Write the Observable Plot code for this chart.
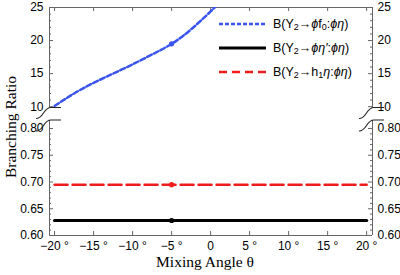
<!DOCTYPE html>
<html><head><meta charset="utf-8">
<script src="https://cdn.jsdelivr.net/npm/d3@7"></script>
<script src="https://cdn.jsdelivr.net/npm/@observablehq/plot@0.6"></script>
<style>
body{margin:0;background:#fff}
#chart{position:relative;width:400px;height:275px;font-family:"Liberation Sans",Arial,sans-serif;color:#000}
#chart svg.main{position:absolute;left:0;top:0;overflow:visible}
.lab{position:absolute;font-family:"Liberation Serif","Times New Roman",serif;font-size:15.5px;white-space:nowrap;line-height:1}
.leg{position:absolute;left:219px;height:14px;display:flex;align-items:center;font-size:12.5px;white-space:nowrap}
.leg svg{margin-right:7px}
.leg sub{font-size:9px;vertical-align:-2px}
</style></head><body><div id="chart"></div>
<script>
// ---- data ----
const theta = [-20, -17.5, -15, -12.5, -10, -7.5, -5, -2.5, 0, 1];
const brPhiF0 = [10.1, 12.0, 13.6, 15.0, 16.4, 17.9, 19.5, 21.7, 24.4, 25.6];
const thetaFlat = [-20, 20];
const brPhiEtaPrime = [0.628, 0.628];
const brH1Eta = [0.695, 0.695];
const markerTheta = [-5];
const markerPhiF0 = [19.5];
const markerPhiEtaPrime = [0.628];
const markerH1Eta = [0.695];
const xTicks = [-20, -15, -10, -5, 0, 5, 10, 15, 20];
const xTickLabels = ["\u221220 \u00b0", "\u221215 \u00b0", "\u221210 \u00b0", "\u22125 \u00b0", "0", "5 \u00b0", "10 \u00b0", "15 \u00b0", "20 \u00b0"];
const yTicksLow = [0.60, 0.65, 0.70, 0.75, 0.80];
const yMinorLow = [0.61, 0.62, 0.63, 0.64, 0.66, 0.67, 0.68, 0.69, 0.71, 0.72, 0.73, 0.74, 0.76, 0.77, 0.78, 0.79];
const yTicksHigh = [10, 15, 20, 25];
const yMinorHigh = [11, 12, 13, 14, 16, 17, 18, 19, 21, 22, 23, 24];
const legendLabels = [
  'B(\u03a5<sub>2</sub>\u2192<i>\u03d5</i>f<sub>0</sub>:<i>\u03d5\u03b7</i>)',
  'B(\u03a5<sub>2</sub>\u2192<i>\u03d5\u03b7\u2032</i>:<i>\u03d5\u03b7</i>)',
  'B(\u03a5<sub>2</sub>\u2192h<sub>1</sub><i>\u03b7</i>:<i>\u03d5\u03b7</i>)'
];
const colors = ["#3a55ee", "#000000", "#ee1c1c"];
const xLabel = "Mixing Angle \u03b8";
const yLabel = "Branching Ratio";

// ---- layout ----
const W = 400, H = 275, mL = 49, mR = 28, mT = 7, mB = 40;
const frameW = W - mL - mR, frameH = H - mT - mB;
const xDom = [-20.65, 20.75];
const yDom = [0.6, 0.815, 9.8, 25];
const yRange = [235, 120, 107.5, 7];
const frameColor = "#666";

const f0Data = theta.map((t, i) => ({t, v: brPhiF0[i]}));
const epData = thetaFlat.map((t, i) => ({t, v: brPhiEtaPrime[i]}));
const h1Data = thetaFlat.map((t, i) => ({t, v: brH1Eta[i]}));
const yMajor = [...yTicksLow, ...yTicksHigh];
const yMinor = [...yMinorLow, ...yMinorHigh];
const fmtY = d => d < 1 ? d.toFixed(2) : String(d);
const fmtX = d => xTickLabels[xTicks.indexOf(d)];

const breaks = (index, scales) => {
  const g = d3.create("svg:g").attr("fill", "none").attr("stroke", "#222").attr("stroke-width", 1.1);
  const xs = [scales.x(xDom[0]), scales.x(xDom[1])];
  const ys = [scales.y(yDom[2]), scales.y(yDom[1])];
  for (const ax of xs) for (const ay of ys) {
    g.append("path").attr("d", `M${ax-13},${ay+11}C${ax-5},${ay+11} ${ax-6},${ay} ${ax+2},${ay}L${ax+12},${ay}`);
  }
  return g.node();
};

const plot = Plot.plot({
  width: W, height: H, marginLeft: mL, marginRight: mR, marginTop: mT, marginBottom: mB,
  x: {domain: xDom, axis: null},
  y: {type: "linear", domain: yDom, range: yRange, axis: null},
  style: {fontFamily: "'Liberation Sans', Arial, sans-serif", fontSize: "12px", color: "#000", background: "transparent"},
  marks: [
    Plot.ruleY([yDom[3]], {stroke: frameColor}),
    Plot.ruleY([yDom[0]], {stroke: frameColor}),
    Plot.ruleX([xDom[0]], {y1: yDom[0], y2: yDom[1], stroke: frameColor}),
    Plot.ruleX([xDom[0]], {y1: yDom[2], y2: yDom[3], stroke: frameColor}),
    Plot.ruleX([xDom[1]], {y1: yDom[0], y2: yDom[1], stroke: frameColor}),
    Plot.ruleX([xDom[1]], {y1: yDom[2], y2: yDom[3], stroke: frameColor}),
    Plot.ruleY(yMajor, {y: d => d, insetRight: frameW - 4, stroke: frameColor}),
    Plot.ruleY(yMajor, {y: d => d, insetLeft: frameW - 4, stroke: frameColor}),
    Plot.ruleY(yMinor, {y: d => d, insetRight: frameW - 2, stroke: frameColor}),
    Plot.ruleY(yMinor, {y: d => d, insetLeft: frameW - 2, stroke: frameColor}),
    Plot.ruleX(xTicks, {x: d => d, insetBottom: frameH - 4, stroke: frameColor}),
    Plot.ruleX(xTicks, {x: d => d, insetTop: frameH - 4, stroke: frameColor}),
    Plot.axisX(xTicks, {anchor: "bottom", tickSize: 0, tickPadding: 6, tickFormat: fmtX, label: null}),
    Plot.axisY(yMajor, {anchor: "left", tickSize: 0, tickPadding: 6, tickFormat: fmtY, label: null}),
    Plot.axisY(yMajor, {anchor: "right", tickSize: 0, tickPadding: 5, tickFormat: fmtY, label: null}),
    Plot.line(epData, {x: "t", y: "v", stroke: colors[1], strokeWidth: 3.2}),
    Plot.line(h1Data, {x: "t", y: "v", stroke: colors[2], strokeWidth: 2.5, strokeDasharray: "13,5"}),
    Plot.line(f0Data, {x: "t", y: "v", stroke: colors[0], strokeWidth: 2.5, strokeDasharray: "5,2.5", curve: "natural", clip: true}),
    Plot.dot(markerTheta.map((t, i) => ({t, v: markerPhiF0[i]})), {x: "t", y: "v", r: 2.6, fill: colors[0]}),
    Plot.dot(markerTheta.map((t, i) => ({t, v: markerPhiEtaPrime[i]})), {x: "t", y: "v", r: 2.6, fill: colors[1]}),
    Plot.dot(markerTheta.map((t, i) => ({t, v: markerH1Eta[i]})), {x: "t", y: "v", r: 2.6, fill: colors[2]}),
    breaks
  ]
});
plot.classList.add("main");
const chart = document.getElementById("chart");
chart.appendChild(plot);

const xl = document.createElement("div");
xl.className = "lab"; xl.textContent = xLabel;
xl.style.left = "205px"; xl.style.top = "262px"; xl.style.transform = "translate(-50%,-50%)";
chart.appendChild(xl);
const yl = document.createElement("div");
yl.className = "lab"; yl.textContent = yLabel;
yl.style.left = "11px"; yl.style.top = "127px"; yl.style.transform = "translate(-50%,-50%) rotate(-90deg)";
chart.appendChild(yl);

const legDash = ["4,2", null, "8,5"];
const legW = [2.5, 3.2, 2.5];
const legTop = [24, 48, 72];
legendLabels.forEach((lab, i) => {
  const d = document.createElement("div");
  d.className = "leg";
  d.style.top = (legTop[i] - 7) + "px";
  d.innerHTML = `<svg width="47" height="6"><line x1="0" x2="47" y1="3" y2="3" stroke="${colors[i]}" stroke-width="${legW[i]}" ${legDash[i] ? `stroke-dasharray="${legDash[i]}"` : ""}/></svg><span>${lab}</span>`;
  chart.appendChild(d);
});
</script>
</body></html>
